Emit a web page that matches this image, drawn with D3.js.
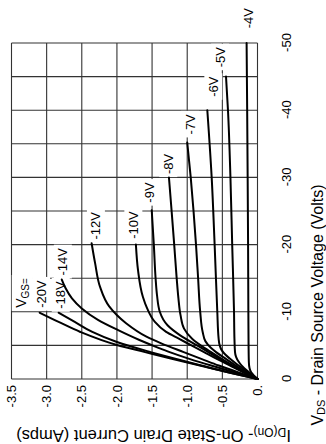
<!DOCTYPE html>
<html><head><meta charset="utf-8">
<script src="https://cdn.jsdelivr.net/npm/d3@7"></script>
<style>
html,body{margin:0;padding:0;background:#fff;}
svg{display:block;font-family:"Liberation Sans",Arial,sans-serif;}
</style></head><body>
<svg id="c" width="326" height="444"></svg>
<script>
// ---- data: [VDS (V), ID (A)] ----
const vgs4  = [[0,0],[-0.5,-0.05],[-1,-0.09],[-1.6,-0.113],[-2.5,-0.123],[-5,-0.127],[-10,-0.13],[-20,-0.134],[-30,-0.14],[-40,-0.147],[-50,-0.155]];
const vgs5  = [[0,0],[-1,-0.12],[-2,-0.225],[-2.6,-0.27],[-3.3,-0.305],[-4,-0.32],[-6,-0.328],[-10,-0.334],[-20,-0.36],[-30,-0.385],[-40,-0.42],[-45,-0.448]];
const vgs6  = [[0,0],[-1,-0.135],[-2,-0.27],[-3,-0.39],[-3.6,-0.455],[-4.3,-0.51],[-5,-0.538],[-6,-0.553],[-10,-0.572],[-20,-0.61],[-30,-0.652],[-40,-0.714]];
const vgs7  = [[0,0],[-1,-0.16],[-2,-0.31],[-3,-0.45],[-4,-0.59],[-4.6,-0.66],[-5.6,-0.74],[-7,-0.78],[-10,-0.815],[-15,-0.845],[-20,-0.875],[-25,-0.91],[-30,-0.95],[-35.2,-1.0]];
const vgs8  = [[0,0],[-1,-0.18],[-2,-0.35],[-3,-0.51],[-4,-0.66],[-4.6,-0.75],[-6,-0.93],[-7.5,-1.045],[-9.5,-1.095],[-12,-1.125],[-15,-1.15],[-20,-1.185],[-25,-1.222],[-30,-1.26]];
const vgs9  = [[0,0],[-1,-0.19],[-2,-0.37],[-3,-0.54],[-4,-0.7],[-5,-0.86],[-6.5,-1.1],[-8,-1.28],[-10,-1.39],[-12.5,-1.43],[-15,-1.45],[-20,-1.475],[-25.1,-1.505]];
const vgs10 = [[0,0],[-1,-0.2],[-2,-0.39],[-3,-0.58],[-4,-0.76],[-5,-0.94],[-6,-1.12],[-7,-1.3],[-8.5,-1.46],[-10.5,-1.57],[-12.2,-1.63],[-16.2,-1.70],[-20,-1.73]];
const vgs12 = [[0,0],[-1,-0.28],[-2,-0.55],[-3,-0.8],[-4,-1.05],[-5.3,-1.37],[-6.3,-1.58],[-8.3,-1.87],[-10.8,-2.11],[-13.7,-2.24],[-17.2,-2.31],[-20.2,-2.36]];
const vgs14 = [[0,0],[-1,-0.33],[-2,-0.66],[-3,-0.97],[-4,-1.25],[-4.6,-1.4],[-5.8,-1.68],[-7.3,-1.99],[-8.8,-2.27],[-10.5,-2.5],[-12,-2.64],[-13.5,-2.73],[-14.8,-2.785]];
const vgs18 = [[0,0],[-1,-0.42],[-2,-0.8],[-3,-1.17],[-4,-1.52],[-5.5,-2.0],[-7,-2.35],[-8.5,-2.6],[-9.87,-2.83]];
const vgs20 = [[0,0],[-1,-0.42],[-2,-0.82],[-3,-1.22],[-4,-1.6],[-5.06,-2.0],[-7,-2.52],[-8.5,-2.83],[-9.87,-3.10]];
const curves = [vgs4, vgs5, vgs6, vgs7, vgs8, vgs9, vgs10, vgs12, vgs14, vgs18, vgs20];

// curve labels: text, anchor VDS, anchor ID
const curveLabels = ["-4V","-5V","-6V","-7V","-8V","-9V","-10V","-12V","-14V","-18V","-20V"];
const labelVds = [-53.7,-47.9,-43.5,-37.9,-32.0,-27.75,-22.9,-22.8,-17.45,-12.5,-12.65];
const labelId  = [-0.128,-0.533,-0.629,-0.96,-1.27,-1.536,-1.767,-2.30,-2.77,-2.80,-3.08];
const vgsHeaderPos = [-12.8,-3.35];

const vdsTickVals = [0,-10,-20,-30,-40,-50];
const vdsTickLabels = ["0","-10","-20","-30","-40","-50"];
const idTickVals = [0,-0.5,-1.0,-1.5,-2.0,-2.5,-3.0,-3.5];
const idTickLabels = ["0.","-0.5","-1.0","-1.5","-2.0","-2.5","-3.0","-3.5"];

// ---- drawing (chart is drawn upright, then rotated -90deg) ----
const plotW = 336, plotH = 246;
const svg = d3.select("#c");
const g = svg.append("g").attr("transform","translate(11.5,379) rotate(-90)");
const x = d3.scaleLinear().domain([0,-50]).range([0,plotW]);
const y = d3.scaleLinear().domain([0,-3.5]).range([plotH,0]);

const gridCol = "#333";
const grid = g.append("g");
grid.selectAll("line.v").data(x.ticks(10)).join("line")
  .attr("x1",d=>x(d)).attr("x2",d=>x(d)).attr("y1",0).attr("y2",plotH)
  .attr("stroke",gridCol).attr("stroke-width",1.1);
grid.selectAll("line.h").data(y.ticks(7)).join("line")
  .attr("x1",0).attr("x2",plotW).attr("y1",d=>y(d)).attr("y2",d=>y(d))
  .attr("stroke",gridCol).attr("stroke-width",1.1);

const boxLayer = g.append("g");
const curveLayer = g.append("g");
const textLayer = g.append("g");

const line = d3.line().x(d=>x(d[0])).y(d=>y(d[1])).curve(d3.curveMonotoneX);
curveLayer.selectAll("path").data(curves).join("path")
  .attr("d",line).attr("fill","none").attr("stroke","#000")
  .attr("stroke-width",2).attr("stroke-linejoin","round").attr("stroke-linecap","round");

// labels
curveLabels.forEach((t,i)=>{
  textLayer.append("text").attr("class","lab")
    .attr("x",x(labelVds[i])).attr("y",y(labelId[i])).attr("dy","0.35em")
    .attr("text-anchor","middle").attr("font-size",13).attr("fill","#000").text(t);
});
const hdr = textLayer.append("text").attr("class","lab")
  .attr("x",x(vgsHeaderPos[0])).attr("y",y(vgsHeaderPos[1])).attr("dy","0.3em")
  .attr("text-anchor","middle").attr("font-size",14).attr("fill","#000");
hdr.append("tspan").text("V");
hdr.append("tspan").attr("font-size",10).attr("dy","3").text("GS=");

textLayer.selectAll("text.lab").each(function(){
  const b = this.getBBox();
  boxLayer.append("rect").attr("x",b.x-3).attr("y",b.y-1.5)
    .attr("width",b.width+6).attr("height",b.height+3).attr("fill","#fff");
});

// axes
const xAxis = d3.axisBottom(x).tickValues(vdsTickVals)
  .tickFormat((d,i)=>vdsTickLabels[i]).tickSize(0).tickPadding(24);
const xa = g.append("g").attr("transform",`translate(0,${plotH})`).call(xAxis);
xa.select(".domain").remove();
xa.selectAll("text").attr("font-size",13).attr("font-family","Liberation Sans, Arial, sans-serif").attr("fill","#000");

const yAxis = d3.axisLeft(y).tickValues(idTickVals)
  .tickFormat((d,i)=>idTickLabels[i]).tickSize(0).tickPadding(6);
const ya = g.append("g").call(yAxis);
ya.select(".domain").remove();
ya.selectAll("text").attr("font-size",13).attr("font-family","Liberation Sans, Arial, sans-serif").attr("fill","#000");

// axis titles
const xt = g.append("text").attr("x",74).attr("y",311).attr("text-anchor","middle")
  .attr("font-size",16).attr("fill","#000");
xt.append("tspan").text("V");
xt.append("tspan").attr("font-size",11).attr("dy","2").text("DS");
xt.append("tspan").attr("dy","-2").text(" - Drain Source Voltage (Volts)");

const yt = g.append("text").attr("transform","translate(-51,142) rotate(-90)")
  .attr("text-anchor","middle").attr("font-size",16.5).attr("fill","#000");
yt.append("tspan").text("I");
yt.append("tspan").attr("font-size",12).attr("dy","2").text("D(On)");
yt.append("tspan").attr("dy","-2").text("- On-State Drain Current (Amps)");
</script>
</body></html>
